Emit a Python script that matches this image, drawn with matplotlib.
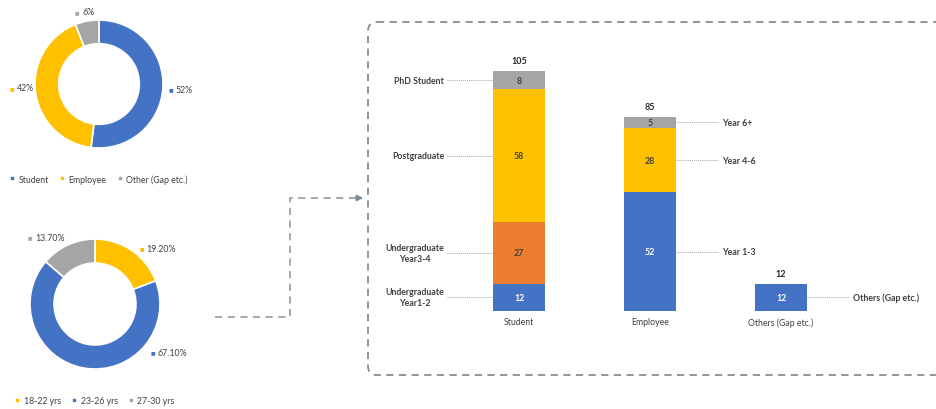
import numpy as np
import matplotlib
matplotlib.use("Agg")
import matplotlib.pyplot as plt
from matplotlib.patches import FancyBboxPatch

plt.rcParams['font.family'] = ['Lato', 'DejaVu Sans']

BLEU = "#4472C4"
ORANGE = "#ED7D31"
GRIS = "#A5A5A5"
JAUNE = "#FFC000"
TEXTE = "#404040"

# donut du haut : statut
statut_labels = ["Student", "Employee", "Other (Gap etc.)"]
statut_valeurs = [52, 42, 6]
statut_couleurs = [BLEU, JAUNE, GRIS]

# donut du bas : tranches d'age
age_labels = ["18-22 yrs", "23-26 yrs", "27-30 yrs"]
age_valeurs = [19.2, 67.1, 13.7]
age_couleurs = [JAUNE, BLEU, GRIS]

# barres empilees
groupes = ["Student", "Employee", "Others (Gap etc.)"]
student_segments = ["Undergraduate\nYear1-2", "Undergraduate\nYear3-4", "Postgraduate", "PhD Student"]
student_valeurs = [12, 27, 58, 8]
student_couleurs = [BLEU, ORANGE, JAUNE, GRIS]
employee_segments = ["Year 1-3", "Year 4-6", "Year 6+"]
employee_valeurs = [52, 28, 5]
employee_couleurs = [BLEU, JAUNE, GRIS]
others_segments = ["Others (Gap etc.)"]
others_valeurs = [12]
others_couleurs = [BLEU]

W, H = 937, 410
fig = plt.figure(figsize=(W / 100, H / 100), dpi=100)


def px_axes(x0, y0, w, h, **kw):
    # axes placé en pixels (origine en haut à gauche)
    return fig.add_axes([x0 / W, (H - y0 - h) / H, w / W, h / H], **kw)


# calque de fond pour cadre et flèche
ov = px_axes(0, 0, W, H, zorder=0)
ov.set_xlim(0, W)
ov.set_ylim(H, 0)
ov.axis("off")

cadre = FancyBboxPatch((368, 23), 620, 353, boxstyle="round,pad=0,rounding_size=9",
                       fill=False, ec="#8c8c8c", lw=1.3, ls=(0, (4, 3)))
ov.add_patch(cadre)

fleche_x = [215, 290, 290, 358]
fleche_y = [318, 318, 199, 199]
ov.plot(fleche_x, fleche_y, color="#9aa3b0", lw=1.3, ls=(0, (4, 3)))
ov.annotate("", xy=(366, 199), xytext=(356, 199),
            arrowprops=dict(arrowstyle="-|>", color="#7f8a99", lw=1.2, mutation_scale=9))


def donut(cx, cy, R, valeurs, couleurs, textes, pos_labels, legende, leg_y):
    taille = 2 * R * 1.05
    ax = px_axes(cx - taille / 2, cy - taille / 2, taille, taille, zorder=2)
    wedges, _ = ax.pie(valeurs, colors=couleurs, startangle=90, counterclock=False,
                       radius=1, wedgeprops=dict(width=0.37, edgecolor="white", linewidth=1.2))
    ax.set_xlim(-1.05, 1.05)
    ax.set_ylim(-1.05, 1.05)
    ax.set_aspect("equal")
    ax.axis("off")
    for (x, y), t, c in zip(pos_labels, textes, couleurs):
        ax.text(x, y, "■", color=c, fontsize=3.5, ha="center", va="center", clip_on=False)
        ax.annotate(t, xy=(x, y), xytext=(3.5, 0), textcoords="offset points",
                    fontsize=6.3, color=TEXTE, ha="left", va="center", annotation_clip=False)
    ax.legend(wedges, legende, loc="center", bbox_to_anchor=(0.5, 0.5 - (leg_y - cy) / taille),
              ncol=3, frameon=False, fontsize=6.3, handlelength=0.55, handleheight=0.55,
              handletextpad=0.4, columnspacing=1.3, labelcolor=TEXTE)


donut(99, 85, 64, statut_valeurs, statut_couleurs,
      [f"{v}%" for v in statut_valeurs],
      [(1.12, -0.08), (-1.36, -0.05), (-0.34, 1.13)],
      statut_labels, 180)

donut(95, 305, 65, age_valeurs, age_couleurs,
      [f"{v:.2f}%" for v in age_valeurs],
      [(0.72, 0.86), (0.89, -0.74), (-1.0, 1.03)],
      age_labels, 402)

# barres : position 0 -> x=519 px, pas de 131 px, base à y=312 px
pas = 131.0
ech = 240 / 105.0
gauche, droite, haut, bas = 380, 920, 40, 312
axb = px_axes(gauche, haut, droite - gauche, bas - haut, zorder=2)
axb.set_xlim((gauche - 519) / pas, (droite - 519) / pas)
axb.set_ylim(0, (bas - haut) / ech)
axb.axis("off")
axb.patch.set_alpha(0)

largeur = 0.4
piles = [(student_valeurs, student_couleurs, student_segments),
         (employee_valeurs, employee_couleurs, employee_segments),
         (others_valeurs, others_couleurs, others_segments)]

for i, (vals, cols, noms) in enumerate(piles):
    base = 0
    for v, c, nom in zip(vals, cols, noms):
        axb.bar(i, v, largeur, bottom=base, color=c)
        couleur_txt = "white" if c == BLEU else TEXTE
        axb.text(i, base + v / 2, str(v), ha="center", va="center", fontsize=6.3,
                 color=couleur_txt, fontweight="bold")
        milieu = base + v / 2
        if i == 0:
            x0 = i - largeur / 2
            axb.plot([x0 - 0.35, x0], [milieu, milieu], color="#a6a6a6", lw=0.7, ls=(0, (1, 1)))
            axb.text(x0 - 0.37, milieu, nom, ha="right", va="center", ma="center",
                     fontsize=6.3, color=TEXTE, fontweight="bold", linespacing=1.3)
        else:
            x0 = i + largeur / 2
            axb.plot([x0, x0 + 0.32], [milieu, milieu], color="#a6a6a6", lw=0.7, ls=(0, (1, 1)))
            axb.text(x0 + 0.35, milieu, nom, ha="left", va="center",
                     fontsize=6.3, color=TEXTE, fontweight="bold")
        base += v
    axb.text(i, base + 2.5, str(base), ha="center", va="bottom", fontsize=6.5,
             color="#262626", fontweight="bold")
    axb.text(i, -4.8, groupes[i], ha="center", va="center", fontsize=6.3,
             color=TEXTE, clip_on=False)

fig.savefig("out.png", dpi=100)
